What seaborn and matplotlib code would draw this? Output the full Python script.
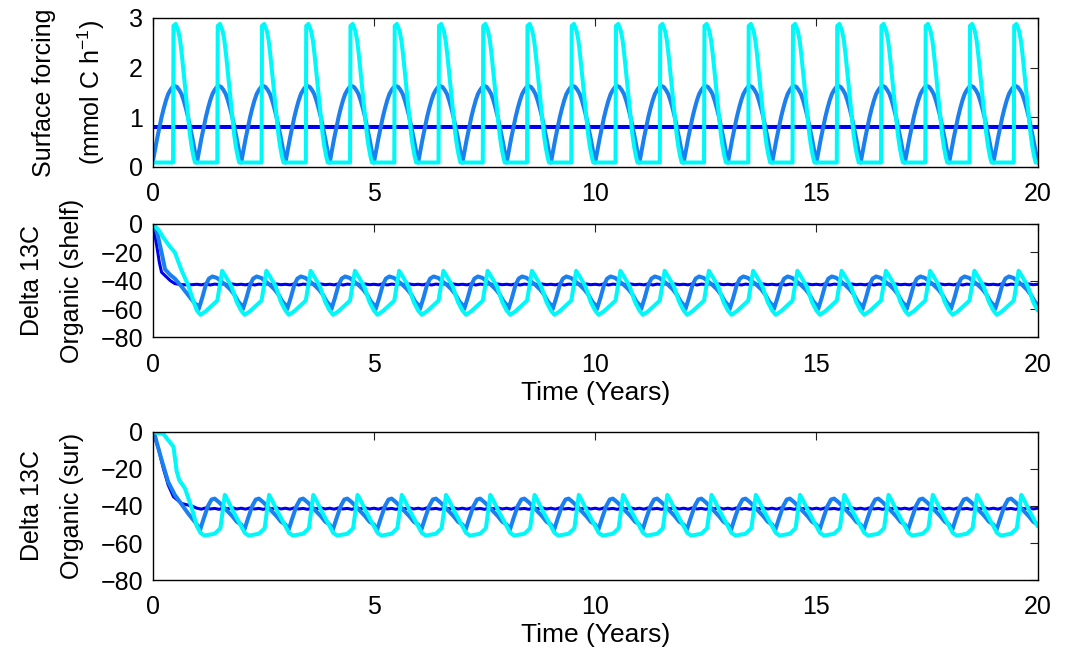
import numpy as np
import pandas as pd
import matplotlib
matplotlib.use('Agg')
import matplotlib.pyplot as plt
import seaborn as sns

N_YEARS = 20

# colours of the three runs
c_dark = '#0000f0'
c_mid = '#1a80f0'
c_cyan = '#00f8f8'

# --- surface forcing, one seasonal cycle (same every year) ---
force_dark_phase = [0.0, 1.0]
force_dark = [0.80, 0.80]
force_mid_phase = [0.0, 0.05, 0.1, 0.15, 0.2, 0.25, 0.3, 0.35, 0.4, 0.45, 0.5,
                   0.55, 0.6, 0.65, 0.7, 0.75, 0.8, 0.85, 0.9, 0.95, 1.0]
force_mid = [0.09, 0.33, 0.57, 0.79, 1.00, 1.18, 1.34, 1.47, 1.55, 1.61, 1.63,
             1.61, 1.55, 1.47, 1.34, 1.18, 1.00, 0.79, 0.57, 0.33, 0.09]
force_cyan_phase = [0.0, 0.46, 0.47, 0.52, 0.58, 0.62, 0.655, 0.69, 0.73, 0.77,
                    0.805, 0.84, 0.88, 0.92, 0.956, 1.0]
force_cyan = [0.09, 0.09, 2.84, 2.88, 2.74, 2.55, 2.29, 1.98, 1.62, 1.28,
              0.95, 0.66, 0.41, 0.22, 0.09, 0.09]

# --- delta 13C organic (shelf): first year, then the repeating cycle ---
shelf_dark_first_phase = [0.0, 0.05, 0.1, 0.15, 0.2, 0.3, 0.4, 0.5, 0.6, 0.8, 1.0]
shelf_dark_first = [0, -8, -17, -27, -34, -37, -40, -42, -42.6, -43, -42.5]
shelf_dark_phase = [0.0, 0.1, 0.2, 0.3, 0.4, 0.5, 0.6, 0.7, 0.8, 0.9, 1.0]
shelf_dark = [-42.5, -42.9, -42.2, -43.0, -42.4, -42.7, -42.1, -42.9, -42.3, -42.8, -42.5]

shelf_mid_first_phase = [0.0, 0.1, 0.2, 0.28, 0.4, 0.5, 0.65, 0.8, 0.95, 1.0]
shelf_mid_first = [0, -6, -20, -32, -36, -38.5, -44, -50, -56, -57]
shelf_mid_phase = [0.0, 0.04, 0.12, 0.2, 0.27, 0.35, 0.45, 0.55, 0.65, 0.75, 0.85, 0.93, 1.0]
shelf_mid = [-57, -60, -52, -43, -38.5, -37, -38, -40.5, -43, -46, -50, -54.5, -57]

shelf_cyan_first_phase = [0.0, 0.13, 0.25, 0.39, 0.5, 0.65, 0.8, 0.95, 1.0]
shelf_cyan_first = [0, -4, -10, -16, -20, -32.5, -43, -57, -61]
shelf_cyan_phase = [0.0, 0.08, 0.2, 0.32, 0.46, 0.57, 0.65, 0.78, 0.9, 1.0]
shelf_cyan = [-61, -64, -61.5, -58, -54, -33, -37, -44, -55, -61]

# --- delta 13C organic (sur) ---
sur_dark_first_phase = [0.0, 0.13, 0.24, 0.35, 0.47, 0.65, 0.88, 1.0]
sur_dark_first = [0, -9, -19.6, -28.6, -35, -38.6, -40, -41.2]
sur_dark_phase = [0.0, 0.1, 0.2, 0.3, 0.4, 0.5, 0.6, 0.7, 0.8, 0.9, 1.0]
sur_dark = [-41.2, -41.7, -41.0, -41.6, -41.3, -41.8, -41.1, -41.5, -41.0, -41.6, -41.2]

sur_mid_first_phase = [0.0, 0.05, 0.2, 0.35, 0.5, 0.65, 0.8, 0.95, 1.0]
sur_mid_first = [0, -2, -15, -27, -34, -39, -44, -48.5, -50]
sur_mid_phase = [0.0, 0.07, 0.15, 0.25, 0.33, 0.4, 0.5, 0.6, 0.7, 0.8, 0.9, 1.0]
sur_mid = [-50, -53, -47, -40, -36.5, -36, -38, -40.5, -43, -45.5, -48.5, -50]

sur_cyan_first_phase = [0.0, 0.24, 0.47, 0.54, 0.6, 0.73, 0.88, 1.0]
sur_cyan_first = [0, -1, -8, -21, -26, -30.5, -41, -51]
sur_cyan_phase = [0.0, 0.08, 0.17, 0.4, 0.53, 0.63, 0.7, 0.8, 0.9, 1.0]
sur_cyan = [-51, -54.5, -56, -55, -52, -34, -37, -42, -46.5, -51]


def build(phase, vals, first_phase=None, first_vals=None):
    # lay the yearly cycle end to end over the run
    t, y = [], []
    for yr in range(N_YEARS):
        if yr == 0 and first_phase is not None:
            ph, v = first_phase, first_vals
        else:
            ph, v = phase, vals
        t.extend([yr + p for p in ph[:-1]])
        y.extend(v[:-1])
    t.append(N_YEARS)
    y.append(vals[-1])
    return pd.DataFrame({'t': t, 'y': y})


def style_axis(ax, ylim, yticks):
    ax.set_xlim(0, 20)
    ax.set_ylim(*ylim)
    ax.set_xticks([0, 5, 10, 15, 20])
    ax.set_yticks(yticks)
    ax.tick_params(direction='in', top=True, right=True, length=6, width=0.8,
                   labelsize=18, color='#222222', labelcolor='black')
    ax.tick_params(axis='x', pad=11)
    ax.tick_params(axis='y', pad=7)
    for s in ax.spines.values():
        s.set_color('black')
        s.set_linewidth(1.0)
    ax.set_xlabel('')


def plot_panel(ax, series, widths):
    for (df, col), lw in zip(series, widths):
        sns.lineplot(data=df, x='t', y='y', ax=ax, color=col, linewidth=lw,
                     sort=False, estimator=None)


def main():
    sns.set_style("white")
    plt.rcParams['font.family'] = ['Liberation Sans', 'DejaVu Sans']
    plt.rcParams['mathtext.fontset'] = 'custom'
    plt.rcParams['mathtext.rm'] = 'Liberation Sans'
    plt.rcParams['mathtext.it'] = 'Liberation Sans'
    plt.rcParams['text.color'] = 'black'
    plt.rcParams['axes.labelcolor'] = 'black'

    fig = plt.figure(figsize=(10.67, 6.49), dpi=100)
    ax1 = fig.add_axes([0.1431, 0.7427, 0.8294, 0.2296])
    ax2 = fig.add_axes([0.1431, 0.4800, 0.8294, 0.1749])
    ax3 = fig.add_axes([0.1431, 0.1063, 0.8294, 0.2281])

    plot_panel(ax1, [(build(force_dark_phase, force_dark), c_dark),
                     (build(force_mid_phase, force_mid), c_mid),
                     (build(force_cyan_phase, force_cyan), c_cyan)],
               [2.9, 2.9, 2.9])
    style_axis(ax1, (0, 3), [0, 1, 2, 3])
    ax1.set_ylabel('Surface forcing\n(mmol C h$^{\\mathregular{-1}}$)', fontsize=18,
                   linespacing=1.8, labelpad=16)

    plot_panel(ax2, [(build(shelf_dark_phase, shelf_dark, shelf_dark_first_phase, shelf_dark_first), c_dark),
                     (build(shelf_mid_phase, shelf_mid, shelf_mid_first_phase, shelf_mid_first), c_mid),
                     (build(shelf_cyan_phase, shelf_cyan, shelf_cyan_first_phase, shelf_cyan_first), c_cyan)],
               [2.2, 2.9, 2.9])
    style_axis(ax2, (-80, 0), [-80, -60, -40, -20, 0])
    ax2.set_ylabel('Delta 13C\nOrganic (shelf)', fontsize=18, linespacing=1.8, labelpad=12)
    ax2.set_xlabel('Time (Years)', fontsize=19, labelpad=3)

    plot_panel(ax3, [(build(sur_dark_phase, sur_dark, sur_dark_first_phase, sur_dark_first), c_dark),
                     (build(sur_mid_phase, sur_mid, sur_mid_first_phase, sur_mid_first), c_mid),
                     (build(sur_cyan_phase, sur_cyan, sur_cyan_first_phase, sur_cyan_first), c_cyan)],
               [2.2, 2.9, 2.9])
    style_axis(ax3, (-80, 0), [-80, -60, -40, -20, 0])
    ax3.set_ylabel('Delta 13C\nOrganic (sur)', fontsize=18, linespacing=1.8, labelpad=12)
    ax3.set_xlabel('Time (Years)', fontsize=19, labelpad=3)

    fig.savefig('out.png', dpi=100)


if __name__ == '__main__':
    main()
